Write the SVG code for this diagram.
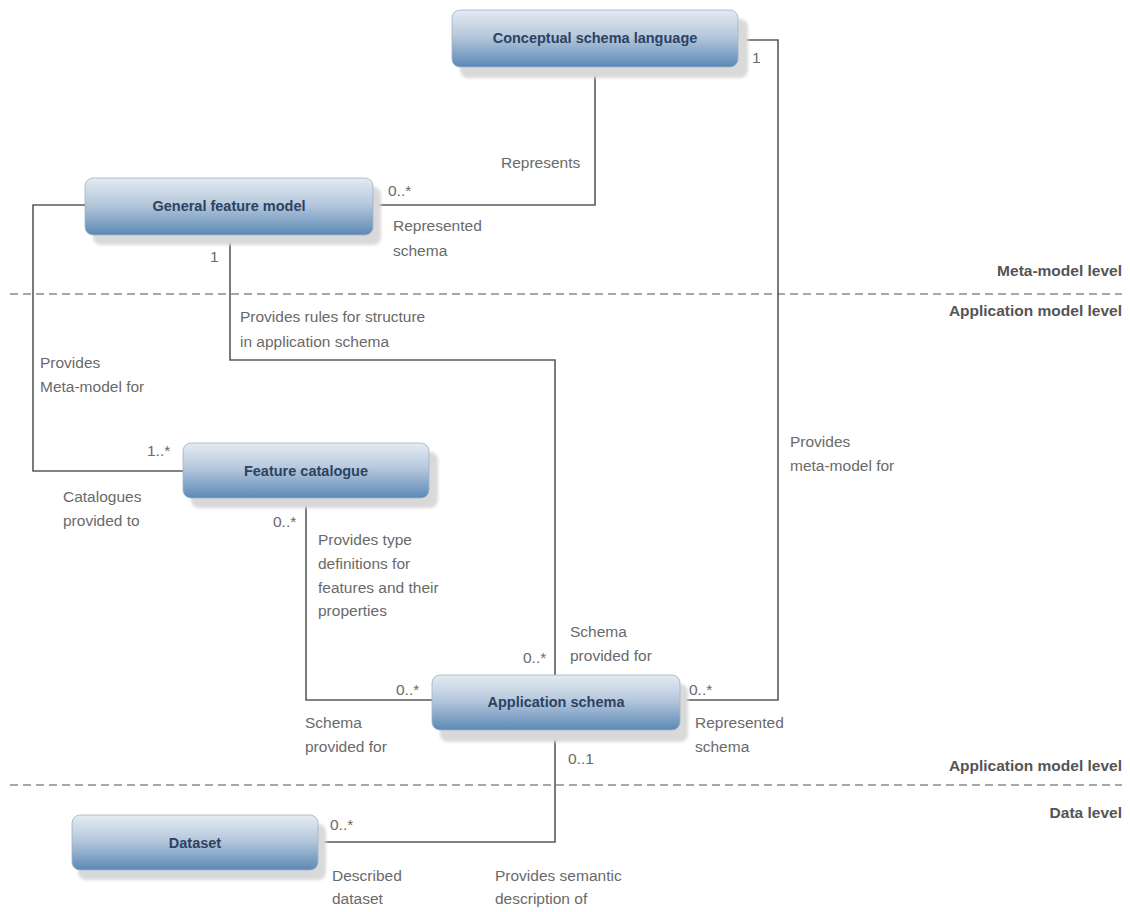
<svg xmlns="http://www.w3.org/2000/svg" width="1130" height="912" viewBox="0 0 1130 912">
<defs>
<linearGradient id="nodeGrad" x1="0" y1="0" x2="0" y2="1">
<stop offset="0" stop-color="#e4ebf3"/>
<stop offset="0.45" stop-color="#b7c9dc"/>
<stop offset="1" stop-color="#5c88b6"/>
</linearGradient>
<filter id="soft" x="-10%" y="-20%" width="120%" height="140%">
<feGaussianBlur stdDeviation="1.5"/>
</filter>
</defs>
<style>
.node{fill:url(#nodeGrad);stroke:#9fb3c8;stroke-width:0.8}
.shadow{fill:#d9d9d9;filter:url(#soft)}
.ntext{font-family:"Liberation Sans",Arial,sans-serif;font-weight:bold;font-size:14.5px;fill:#2d4263;text-anchor:middle}
.lbl{font-family:"Liberation Sans",Arial,sans-serif;font-size:15.5px;fill:#6a6a6a}
.lvl{font-family:"Liberation Sans",Arial,sans-serif;font-weight:bold;font-size:15.5px;fill:#555;text-anchor:end}
.conn{fill:none;stroke:#5a5a5a;stroke-width:1.6}
.dash{stroke:#8a8a8a;stroke-width:1.5;stroke-dasharray:8 5}
</style>
<rect width="1130" height="912" fill="#ffffff"/>

<g id="levels">
<line class="dash" x1="10" y1="294" x2="1122" y2="294"/>
<line class="dash" x1="10" y1="785" x2="1122" y2="785"/>
<text class="lvl" x="1122" y="276">Meta-model level</text>
<text class="lvl" x="1122" y="316">Application model level</text>
<text class="lvl" x="1122" y="771">Application model level</text>
<text class="lvl" x="1122" y="818">Data level</text>
</g>

<g id="connectors">
<polyline class="conn" points="738,40 778,40 778,700 680,700"/>
<polyline class="conn" points="595,67 595,205 373,205"/>
<polyline class="conn" points="85,205 33,205 33,471 183,471"/>
<polyline class="conn" points="230,235 230,360 555,360 555,675"/>
<polyline class="conn" points="306,498 306,700 432,700"/>
<polyline class="conn" points="555,730 555,842 318,842"/>
</g>

<g id="labels">
<text class="lbl" x="752" y="63">1</text>
<text class="lbl" x="501" y="168">Represents</text>
<text class="lbl" x="388" y="196">0..*</text>
<text class="lbl" x="393" y="231">Represented</text>
<text class="lbl" x="393" y="256">schema</text>
<text class="lbl" x="210" y="262">1</text>
<text class="lbl" x="240" y="322">Provides rules for structure</text>
<text class="lbl" x="240" y="347">in application schema</text>
<text class="lbl" x="40" y="368">Provides</text>
<text class="lbl" x="40" y="392">Meta-model for</text>
<text class="lbl" x="790" y="447">Provides</text>
<text class="lbl" x="790" y="471">meta-model for</text>
<text class="lbl" x="147" y="456">1..*</text>
<text class="lbl" x="63" y="502">Catalogues</text>
<text class="lbl" x="63" y="526">provided to</text>
<text class="lbl" x="273" y="527">0..*</text>
<text class="lbl" x="318" y="545">Provides type</text>
<text class="lbl" x="318" y="569">definitions for</text>
<text class="lbl" x="318" y="593">features and their</text>
<text class="lbl" x="318" y="616">properties</text>
<text class="lbl" x="570" y="637">Schema</text>
<text class="lbl" x="570" y="661">provided for</text>
<text class="lbl" x="523" y="663">0..*</text>
<text class="lbl" x="396" y="695">0..*</text>
<text class="lbl" x="689" y="695">0..*</text>
<text class="lbl" x="305" y="728">Schema</text>
<text class="lbl" x="305" y="752">provided for</text>
<text class="lbl" x="695" y="728">Represented</text>
<text class="lbl" x="695" y="752">schema</text>
<text class="lbl" x="568" y="764">0..1</text>
<text class="lbl" x="330" y="830">0..*</text>
<text class="lbl" x="332" y="881">Described</text>
<text class="lbl" x="332" y="904">dataset</text>
<text class="lbl" x="495" y="881">Provides semantic</text>
<text class="lbl" x="495" y="904">description of</text>
</g>

<g id="node-conceptual-schema-language">
<rect class="shadow" x="460" y="19" width="288" height="59" rx="8"/>
<rect class="node" x="452" y="10" width="286" height="57" rx="8"/>
<text class="ntext" x="595" y="43">Conceptual schema language</text>
</g>
<g id="node-general-feature-model">
<rect class="shadow" x="93" y="187" width="288" height="58" rx="8"/>
<rect class="node" x="85" y="178" width="288" height="57" rx="8"/>
<text class="ntext" x="229" y="211">General feature model</text>
</g>
<g id="node-feature-catalogue">
<rect class="shadow" x="191" y="452" width="247" height="56" rx="8"/>
<rect class="node" x="183" y="443" width="246" height="55" rx="8"/>
<text class="ntext" x="306" y="476">Feature catalogue</text>
</g>
<g id="node-application-schema">
<rect class="shadow" x="440" y="684" width="248" height="58" rx="8"/>
<rect class="node" x="432" y="675" width="248" height="55" rx="8"/>
<text class="ntext" x="556" y="707">Application schema</text>
</g>
<g id="node-dataset">
<rect class="shadow" x="78" y="824" width="248" height="56" rx="8"/>
<rect class="node" x="72" y="815" width="246" height="55" rx="8"/>
<text class="ntext" x="195" y="848">Dataset</text>
</g>
</svg>
